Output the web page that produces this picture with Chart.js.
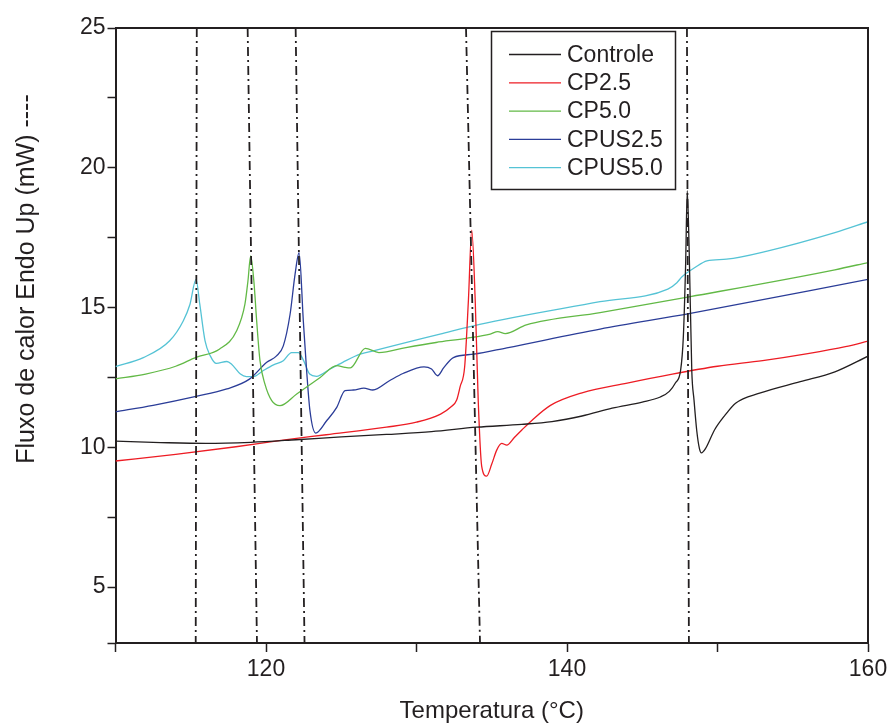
<!DOCTYPE html>
<html>
<head>
<meta charset="utf-8">
<script src="https://cdn.jsdelivr.net/npm/chart.js@4.4.1/dist/chart.umd.min.js"></script>
<style>
  body { margin: 0; background: #fff; }
  #wrap { width: 889px; height: 726px; }
</style>
</head>
<body>
<div id="wrap"><canvas id="dsc" width="889" height="726"></canvas></div>
<script>
// DSC curves (temperature in °C, heat flow in mW)
const controleT = [110, 113, 116, 119, 122, 125, 128, 131, 134, 137, 139, 141, 143, 145, 146.2, 146.8, 147.2, 147.55, 147.73, 147.88, 147.99, 148.12, 148.29, 148.44, 148.62, 148.8, 148.93, 149.2, 149.8, 150.5, 151.2, 152.8, 155.5, 157.8, 160];
const controleV = [10.22, 10.17, 10.14, 10.18, 10.27, 10.37, 10.46, 10.56, 10.72, 10.82, 10.92, 11.12, 11.4, 11.62, 11.8, 12.0, 12.3, 12.76, 13.95, 16.5, 19.18, 17.0, 12.76, 11.69, 10.6, 9.95, 9.8, 9.95, 10.62, 11.15, 11.58, 11.94, 12.35, 12.7, 13.26];

const cp25T = [110, 114, 118, 121, 124, 128, 130, 131.6, 132.3, 132.67, 132.9, 133.2, 133.45, 133.67, 133.9, 134.1, 134.33, 134.66, 135.0, 135.33, 135.66, 136.0, 136.5, 137.0, 137.7, 138.9, 141, 144, 147, 150, 153, 156, 158.5, 160];
const cp25V = [9.51, 9.75, 10.02, 10.25, 10.45, 10.72, 10.9, 11.19, 11.45, 11.69, 12.17, 12.88, 15.27, 17.77, 15.27, 11.69, 9.33, 8.97, 9.4, 9.9, 10.14, 10.08, 10.35, 10.62, 10.98, 11.5, 11.95, 12.3, 12.62, 12.9, 13.1, 13.35, 13.6, 13.8];

const cp50T = [110, 112, 114, 115.35, 116.9, 118.05, 118.6, 118.8, 118.98, 119.2, 119.38, 119.6, 119.93, 120.38, 120.93, 122.04, 123.6, 124.7, 125.25, 125.6, 126.6, 127.5, 129.3, 131.3, 133.3, 134.9, 135.4, 135.9, 137.3, 142.2, 148.2, 157.8, 160];
const cp50V = [12.45, 12.62, 12.9, 13.22, 13.51, 14.17, 15.12, 15.95, 16.85, 15.9, 14.52, 13.1, 12.26, 11.67, 11.49, 11.91, 12.5, 12.92, 12.86, 12.84, 13.54, 13.39, 13.57, 13.75, 13.9, 14.05, 14.14, 14.07, 14.38, 14.82, 15.39, 16.35, 16.61];

const cpus25T = [110, 112.5, 115.35, 117.4, 118.9, 120.05, 120.7, 121.15, 121.6, 121.93, 122.2, 122.48, 122.7, 122.92, 123.3, 124.03, 124.7, 125.25, 125.8, 126.5, 127.1, 128.2, 129.1, 130.5, 131.0, 131.4, 131.8, 132.45, 133.8, 136, 142.2, 148.2, 160];
const cpus25V = [11.27, 11.5, 11.82, 12.09, 12.44, 13.04, 13.27, 13.63, 14.76, 16.19, 16.96, 14.52, 12.74, 11.31, 10.51, 10.95, 11.43, 12.03, 12.05, 12.12, 12.05, 12.38, 12.64, 12.88, 12.8, 12.56, 12.84, 13.21, 13.33, 13.56, 14.23, 14.79, 16.01];

const cpus50T = [110, 111.85, 113.6, 114.5, 114.95, 115.35, 115.6, 115.95, 116.3, 116.7, 117.4, 117.7, 118.3, 118.7, 119.15, 119.8, 120.5, 121.15, 121.7, 122.15, 122.5, 122.9, 123.35, 124.25, 125.1, 126.25, 127.13, 129.35, 131.56, 134.2, 142.2, 146.7, 147.3, 147.64, 148.5, 149.3, 150.6, 153.3, 157.8, 160];
const cpus50V = [12.89, 13.21, 13.81, 14.52, 15.12, 16.01, 15.12, 13.81, 13.27, 13.0, 13.07, 12.98, 12.62, 12.53, 12.53, 12.74, 12.95, 13.1, 13.39, 13.39, 13.1, 12.62, 12.54, 12.8, 13.04, 13.33, 13.45, 13.75, 14.05, 14.4, 15.21, 15.66, 15.89, 16.1, 16.43, 16.67, 16.73, 17.02, 17.68, 18.07];

// dash-dot peak markers: x at the top (25 mW) and at the bottom (3 mW)
const markerTopT = [115.4, 118.78, 121.97, 133.29, 147.97];
const markerBottomT = [115.33, 119.4, 122.56, 134.22, 148.1];

const seriesNames = ['Controle', 'CP2.5', 'CP5.0', 'CPUS2.5', 'CPUS5.0'];
const seriesColors = ['#231f20', '#ed1c24', '#62b946', '#2b3d98', '#55c3d5'];

const yTitle = 'Fluxo de calor Endo Up (mW) ----';
const xTitle = 'Temperatura (°C)';

const ink = '#231f20';
const fontFamily = '"Liberation Sans", Arial, sans-serif';

function pairs(xs, ys) {
    return xs.map((x, i) => ({ x: x, y: ys[i] }));
}

const curveData = [
    pairs(controleT, controleV),
    pairs(cp25T, cp25V),
    pairs(cp50T, cp50V),
    pairs(cpus25T, cpus25V),
    pairs(cpus50T, cpus50V)
];

const datasets = [];

// markers first so they sit on top of the curves
markerTopT.forEach((t, i) => {
    datasets.push({
        label: '',
        isMarker: true,
        data: [{ x: t, y: 25 }, { x: markerBottomT[i], y: 3 }],
        borderColor: ink,
        borderWidth: 1.8,
        borderDash: [9, 4, 2, 4],
        pointRadius: 0,
        tension: 0,
        order: 0
    });
});

seriesNames.forEach((name, i) => {
    datasets.push({
        label: name,
        data: curveData[i],
        borderColor: seriesColors[i],
        borderWidth: 1.3,
        pointRadius: 0,
        cubicInterpolationMode: 'monotone',
        order: 1
    });
});

// frame, rotated y title and the boxed legend
const decorations = {
    id: 'decorations',
    afterDraw(chart) {
        const ctx = chart.ctx;
        const area = chart.chartArea;
        ctx.save();

        ctx.strokeStyle = ink;
        ctx.lineWidth = 2;
        ctx.beginPath();
        ctx.moveTo(area.left, area.top);
        ctx.lineTo(area.right, area.top);
        ctx.lineTo(area.right, area.bottom);
        ctx.stroke();

        ctx.fillStyle = ink;
        ctx.font = '25px ' + fontFamily;
        ctx.textAlign = 'center';
        ctx.textBaseline = 'middle';
        ctx.translate(27, 279);
        ctx.rotate(-Math.PI / 2);
        ctx.fillText(yTitle, 0, 0);
        ctx.setTransform(1, 0, 0, 1, 0, 0);

        const box = { x: 491.5, y: 31.5, w: 184, h: 158 };
        ctx.fillStyle = '#fff';
        ctx.fillRect(box.x, box.y, box.w, box.h);
        ctx.strokeStyle = ink;
        ctx.lineWidth = 1.5;
        ctx.strokeRect(box.x, box.y, box.w, box.h);

        ctx.font = '23px ' + fontFamily;
        ctx.textAlign = 'left';
        chart.data.datasets.filter(d => !d.isMarker).forEach((d, i) => {
            const y = 54.5 + i * 28.3;
            ctx.strokeStyle = d.borderColor;
            ctx.lineWidth = 1.3;
            ctx.beginPath();
            ctx.moveTo(509, y);
            ctx.lineTo(561, y);
            ctx.stroke();
            ctx.fillStyle = ink;
            ctx.fillText(d.label, 567, y + 1);
        });
        ctx.restore();
    }
};

new Chart(document.getElementById('dsc'), {
    type: 'line',
    data: { datasets: datasets },
    options: {
        responsive: false,
        animation: false,
        layout: { padding: { top: 28, right: 21, left: 0, bottom: 0 } },
        plugins: {
            legend: { display: false },
            tooltip: { enabled: false }
        },
        scales: {
            x: {
                type: 'linear',
                min: 110,
                max: 160,
                ticks: {
                    stepSize: 10,
                    autoSkip: false,
                    maxRotation: 0,
                    color: ink,
                    padding: 4,
                    font: { family: fontFamily, size: 23 },
                    callback: v => (v % 20 === 0 ? v : '')
                },
                grid: {
                    drawOnChartArea: false,
                    drawTicks: true,
                    tickLength: 9,
                    tickColor: ink,
                    tickWidth: 1.5
                },
                border: { display: true, color: ink, width: 2 },
                title: {
                    display: true,
                    text: xTitle,
                    color: ink,
                    font: { family: fontFamily, size: 24 },
                    padding: { top: 0, bottom: 0 }
                },
                afterFit: s => {
                    s.height = 83;
                    s.paddingLeft = 0;
                    s.paddingRight = 0;
                }
            },
            y: {
                type: 'linear',
                min: 3,
                max: 25,
                ticks: {
                    stepSize: 2.5,
                    autoSkip: false,
                    color: ink,
                    padding: 2,
                    font: { family: fontFamily, size: 23 },
                    callback: v => (v % 5 === 0 ? v : '')
                },
                grid: {
                    drawOnChartArea: false,
                    drawTicks: true,
                    tickLength: 8,
                    tickColor: ink,
                    tickWidth: 1.5
                },
                border: { display: true, color: ink, width: 2 },
                afterFit: s => {
                    s.width = 115.5;
                    s.paddingTop = 0;
                    s.paddingBottom = 0;
                }
            }
        }
    },
    plugins: [decorations]
});
</script>
</body>
</html>
